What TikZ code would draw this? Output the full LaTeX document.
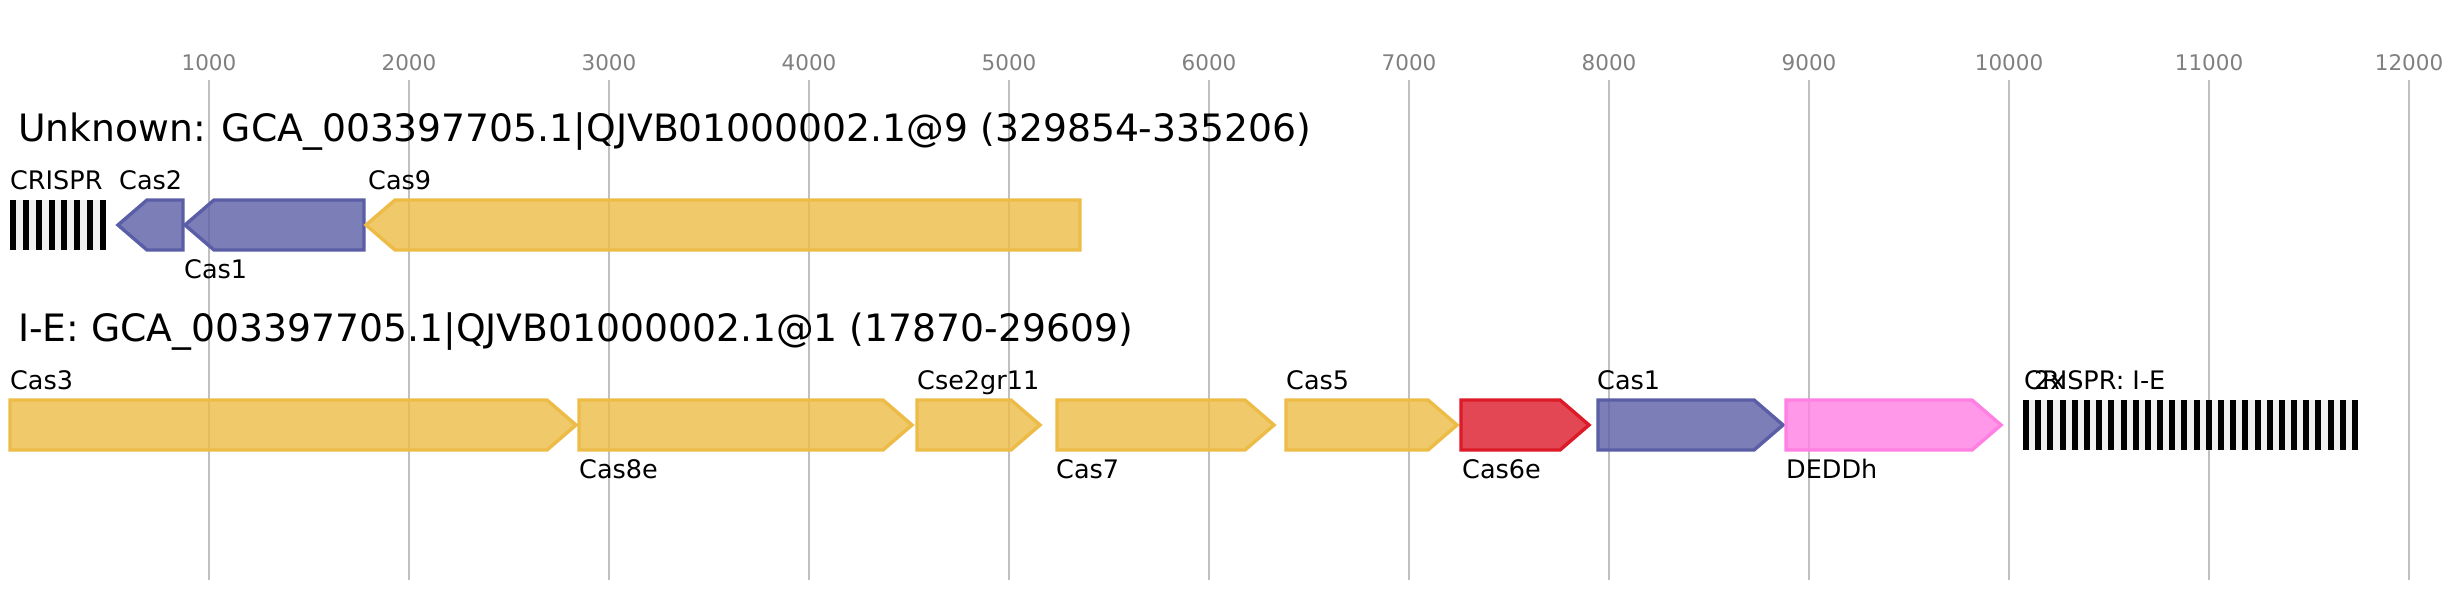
\documentclass[tikz,border=0pt]{standalone}
\usepackage{fontspec}
\setmainfont{DejaVu Sans}
\definecolor{gridc}{HTML}{C0C0C0}
\definecolor{tickc}{HTML}{808080}
\definecolor{yel}{HTML}{EDBC47}
\definecolor{blu}{HTML}{5A5EA6}
\definecolor{redc}{HTML}{DC1A28}
\definecolor{pnk}{HTML}{FF7FE3}
\definecolor{arrbg}{HTML}{F0F0F0}
\tikzset{
  gridline/.style={draw=gridc, line width=1.8pt},
  ticklbl/.style={anchor=base, inner sep=0pt, text=tickc, font=\fontsize{21.5}{24}\selectfont},
  titlelbl/.style={anchor=base west, inner sep=0pt, font=\fontsize{37.7}{40}\selectfont},
  genelbl/.style={anchor=base west, inner sep=0pt, font=\fontsize{25.5}{28}\selectfont},
  genebox/.style={draw=#1, fill=#1, fill opacity=0.8, line width=3.4pt, line join=miter},
}
% right-pointing gene: back x, tip x, top y, colour
\newcommand\geneRt[4]{\path[genebox=#4] (#1,#3) -- ({#2-29},#3) -- (#2,{#3+25}) -- ({#2-29},{#3+50}) -- (#1,{#3+50}) -- cycle;}
% left-pointing gene: tip x, back x, top y, colour
\newcommand\geneLt[4]{\path[genebox=#4] (#2,#3) -- ({#1+29},#3) -- (#1,{#3+25}) -- ({#1+29},{#3+50}) -- (#2,{#3+50}) -- cycle;}
% CRISPR array: start x, end x, top y, number of bars
\newcommand\crisprArr[4]{%
  \fill[arrbg] (#1,#3) rectangle (#2,{#3+50});
  \pgfmathsetmacro\arrstep{(#2-#1-6)/(#4-1)}
  \foreach \i in {1,...,#4}{\fill[black] ({#1+(\i-1)*\arrstep},#3) rectangle ({#1+(\i-1)*\arrstep+6},{#3+50});}
}
\begin{document}
\begin{tikzpicture}[x=1pt,y=-1pt]
\useasboundingbox[fill=white] (0,0) rectangle (2448,600);
% grid and ticks
\foreach \k in {1,...,12}{
  \draw[gridline] ({9+200*\k},80) -- ({9+200*\k},580);
  \node[ticklbl] (tick\k) at ({9+200*\k},70) {\k000};
}
% titles
\node[titlelbl] (title1) at (18,141) {Unknown: GCA\_003397705.1|QJVB01000002.1@9 (329854-335206)};
\node[titlelbl] (title2) at (18,341) {I-E: GCA\_003397705.1|QJVB01000002.1@1 (17870-29609)};
% row 1
\crisprArr{10}{106}{200}{8}
\geneLt{118}{183}{200}{blu}
\geneLt{185}{364}{200}{blu}
\geneLt{366}{1080}{200}{yel}
\node[genelbl] (l1a) at (10,189) {CRISPR};
\node[genelbl] (l1b) at (119,189) {Cas2};
\node[genelbl] (l1c) at (184,278) {Cas1};
\node[genelbl] (l1d) at (368,189) {Cas9};
% row 2
\geneRt{10}{576}{400}{yel}
\geneRt{579}{912}{400}{yel}
\geneRt{917}{1040}{400}{yel}
\geneRt{1057}{1274}{400}{yel}
\geneRt{1286}{1457}{400}{yel}
\geneRt{1461}{1589}{400}{redc}
\geneRt{1598}{1783}{400}{blu}
\geneRt{1786}{2001}{400}{pnk}
\crisprArr{2023}{2358}{400}{28}
\node[genelbl] (l2a) at (10,389) {Cas3};
\node[genelbl] (l2b) at (579,478) {Cas8e};
\node[genelbl] (l2c) at (917,389) {Cse2gr11};
\node[genelbl] (l2d) at (1056,478) {Cas7};
\node[genelbl] (l2e) at (1286,389) {Cas5};
\node[genelbl] (l2f) at (1462,478) {Cas6e};
\node[genelbl] (l2g) at (1597,389) {Cas1};
\node[genelbl] (l2h) at (1786,478) {DEDDh};
\node[genelbl] (l2i) at (2024,389) {CRISPR: I-E};
\node[genelbl] (l2j) at (2034,389) {2x};
\end{tikzpicture}
\end{document}
